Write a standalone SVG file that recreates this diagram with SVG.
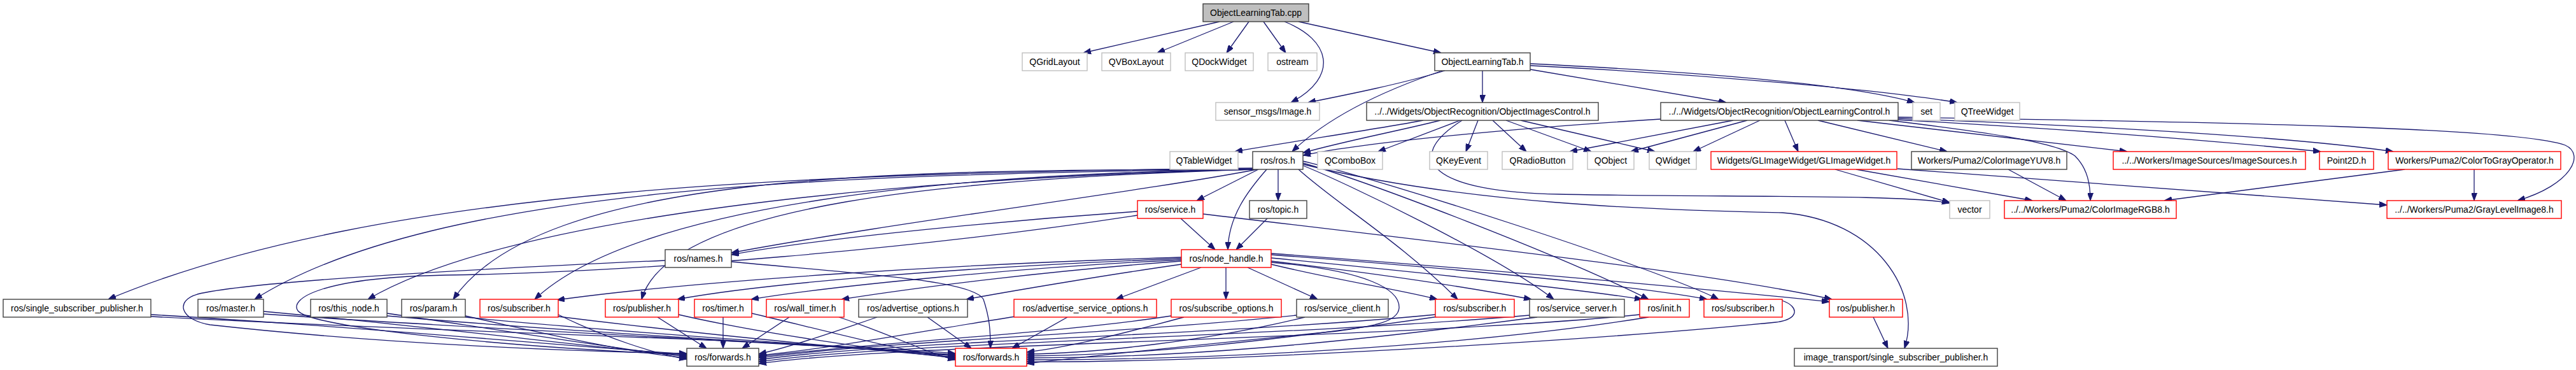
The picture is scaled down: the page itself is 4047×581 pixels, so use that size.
<svg xmlns="http://www.w3.org/2000/svg" width="4047" height="581" viewBox="0 0 4047 581">
<style>
.nb{fill:#fff;stroke:#404040;stroke-width:1.4}
.ng{fill:#fff;stroke:#bfbfbf;stroke-width:1.4}
.nr{fill:#fff;stroke:#ff0000;stroke-width:1.4}
.nc{fill:#bfbfbf;stroke:#404040;stroke-width:1.4}
text{font-family:"Liberation Sans",Arial,sans-serif;font-size:14px;text-anchor:middle;fill:#000}
.e{fill:none;stroke:#191970;stroke-width:1.3;marker-end:url(#ah)}
</style>
<defs>
<marker id="ah" viewBox="0 0 12 9" refX="12" refY="4.5" markerWidth="12" markerHeight="9" markerUnits="userSpaceOnUse" orient="auto"><path d="M0,0 L12,4.5 L0,9 z" fill="#191970" stroke="#191970" stroke-width="1"/></marker>
</defs>
<rect x="0" y="0" width="4047" height="581" fill="#fff"/>
<g id="edges">
<path class="e" d="M1916,34 L1702,83"/>
<path class="e" d="M1938,34 L1818,83"/>
<path class="e" d="M1962,34 L1927,83"/>
<path class="e" d="M1985,34 L2020,83"/>
<path class="e" d="M2018,34 C2090,62 2105,120 2028,161"/>
<path class="e" d="M2040,34 L2264,83"/>
<path class="e" d="M2270,111 C2200,132 2120,148 2055,161"/>
<path class="e" d="M2266,111 C2180,140 2090,180 2030,238"/>
<path class="e" d="M2329,111 L2329,161"/>
<path class="e" d="M2404,109 L2712,161"/>
<path class="e" d="M2404,100 C2650,112 2900,130 3008,161"/>
<path class="e" d="M2404,103 C2650,115 2950,140 3075,161"/>
<path class="e" d="M2236,189 C2150,205 2030,222 1940,238"/>
<path class="e" d="M2263,189 C2200,205 2110,222 2047,240"/>
<path class="e" d="M2294,189 L2165,238"/>
<path class="e" d="M2322,189 L2303,238"/>
<path class="e" d="M2345,189 L2398,238"/>
<path class="e" d="M2366,189 L2500,238"/>
<path class="e" d="M2389,189 L2600,238"/>
<path class="e" d="M2297,189 C2200,250 2250,302 2450,305 C2700,310 3000,305 3063,319"/>
<path class="e" d="M2609,187 C2400,200 2150,222 2047,244"/>
<path class="e" d="M2723,189 L2466,238"/>
<path class="e" d="M2745,189 L2562,238"/>
<path class="e" d="M2765,189 L2660,238"/>
<path class="e" d="M2804,189 L2825,238"/>
<path class="e" d="M2856,189 L3059,238"/>
<path class="e" d="M2918,189 L3342,238"/>
<path class="e" d="M2968,189 C3100,205 3230,222 3260,245 C3280,265 3284,290 3284,315"/>
<path class="e" d="M2980,188 C3200,200 3450,218 3646,238"/>
<path class="e" d="M2982,186 C3300,198 3600,215 3760,238"/>
<path class="e" d="M2982,184 C3500,192 3950,200 4030,228 C4062,242 4040,290 3955,315"/>
<path class="e" d="M2883,266 L3063,318"/>
<path class="e" d="M2916,266 L3193,315"/>
<path class="e" d="M2981,265 C3300,288 3550,305 3750,322"/>
<path class="e" d="M3155,266 L3246,315"/>
<path class="e" d="M3778,266 L3400,315"/>
<path class="e" d="M3887,266 L3887,315"/>
<path class="e" d="M1977,266 L1880,315"/>
<path class="e" d="M2008,266 L2008,315"/>
<path class="e" d="M1990,266 C1960,300 1930,340 1929,392"/>
<path class="e" d="M1975,266 C1800,300 1400,350 1149,397"/>
<path class="e" d="M1968,264 C1300,272 600,290 170,470"/>
<path class="e" d="M1968,265 C1400,275 700,280 400,470"/>
<path class="e" d="M1968,266 C1400,280 800,340 578,470"/>
<path class="e" d="M1969,266 C1400,266 850,270 712,470"/>
<path class="e" d="M1970,266 C1500,272 1000,320 840,470"/>
<path class="e" d="M1972,266 C1500,280 1050,320 1008,470"/>
<path class="e" d="M2040,266 C2100,320 2200,380 2290,470"/>
<path class="e" d="M2047,260 C2110,285 2350,400 2441,470"/>
<path class="e" d="M2047,256 C2150,285 2450,400 2590,470"/>
<path class="e" d="M2047,253 C2180,285 2600,420 2700,470"/>
<path class="e" d="M2047,258 C2300,320 2600,330 2800,334 C2950,345 3020,460 2992,547"/>
<path class="e" d="M1855,343 L1909,392"/>
<path class="e" d="M1787,332 C1600,345 1300,372 1149,400"/>
<path class="e" d="M1787,338 C1450,390 1000,428 700,432 C500,436 455,470 468,488 C490,515 800,545 1079,557"/>
<path class="e" d="M1890,336 C2300,385 2700,430 2878,470"/>
<path class="e" d="M1991,343 L1942,392"/>
<path class="e" d="M1045,409 C800,420 400,440 310,462 C275,472 282,502 330,510 C600,540 900,552 1079,555"/>
<path class="e" d="M1149,411 C1350,430 1530,440 1545,470 C1555,500 1556,520 1556,547"/>
<path class="e" d="M1856,404 C1500,415 1100,440 875,471"/>
<path class="e" d="M1856,406 C1500,420 1200,445 1064,470"/>
<path class="e" d="M1856,408 C1600,420 1300,450 1180,470"/>
<path class="e" d="M1856,410 C1650,425 1450,450 1322,470"/>
<path class="e" d="M1856,415 C1750,430 1600,455 1518,470"/>
<path class="e" d="M1887,420 L1753,470"/>
<path class="e" d="M1926,420 L1926,470"/>
<path class="e" d="M1960,420 L2070,470"/>
<path class="e" d="M1997,415 C2100,440 2200,455 2258,470"/>
<path class="e" d="M1997,410 C2150,428 2300,450 2406,470"/>
<path class="e" d="M1997,405 C2200,425 2450,450 2580,470"/>
<path class="e" d="M1997,400 C2200,415 2550,445 2682,470"/>
<path class="e" d="M1997,398 C2300,420 2700,455 2874,474"/>
<path class="e" d="M1997,412 C2150,425 2200,455 2198,484 C2196,505 2160,512 2100,520 C1900,540 1700,560 1613,571"/>
<path class="e" d="M237,494 C600,515 900,545 1079,556"/>
<path class="e" d="M237,497 C700,522 1200,532 1501,555"/>
<path class="e" d="M414,489 C700,515 950,548 1079,558"/>
<path class="e" d="M414,493 C800,520 1250,538 1501,557"/>
<path class="e" d="M608,492 C800,520 980,550 1079,560"/>
<path class="e" d="M608,496 C900,522 1300,542 1501,558"/>
<path class="e" d="M731,496 C880,530 1000,555 1079,562"/>
<path class="e" d="M731,498 C1000,525 1350,545 1501,559"/>
<path class="e" d="M877,494 C950,530 1030,556 1079,564"/>
<path class="e" d="M877,497 C1100,525 1350,548 1501,561"/>
<path class="e" d="M1033,498 L1110,547"/>
<path class="e" d="M1066,494 C1200,525 1400,552 1501,562"/>
<path class="e" d="M1136,498 L1136,547"/>
<path class="e" d="M1181,492 C1300,520 1420,552 1501,563"/>
<path class="e" d="M1240,498 L1166,547"/>
<path class="e" d="M1318,498 C1400,525 1460,556 1501,565"/>
<path class="e" d="M1378,498 C1300,525 1240,545 1192,556"/>
<path class="e" d="M1457,498 L1526,547"/>
<path class="e" d="M1601,496 C1450,520 1300,548 1192,558"/>
<path class="e" d="M1677,498 L1590,547"/>
<path class="e" d="M1840,496 C1650,525 1400,535 1192,560"/>
<path class="e" d="M1860,498 C1760,525 1680,545 1613,553"/>
<path class="e" d="M2037,495 C1750,525 1400,535 1192,562"/>
<path class="e" d="M2050,498 C1900,535 1720,555 1613,556"/>
<path class="e" d="M2255,494 C1900,528 1400,535 1192,565"/>
<path class="e" d="M2260,497 C2000,535 1800,558 1613,559"/>
<path class="e" d="M2403,495 C2000,530 1400,538 1192,568"/>
<path class="e" d="M2415,498 C2100,540 1850,562 1613,562"/>
<path class="e" d="M2576,494 C2200,532 1400,540 1192,571"/>
<path class="e" d="M2590,498 C2300,545 1900,565 1613,565"/>
<path class="e" d="M2800,472 C2828,482 2826,502 2790,506 C2500,535 1900,570 1613,568"/>
<path class="e" d="M2943,498 L2966,547"/>
</g>
<g id="n_cpp"><rect class="nc" x="1890" y="6" width="166" height="28"/><text x="1973" y="25">ObjectLearningTab.cpp</text></g>
<g id="n_qgridlayout"><rect class="ng" x="1606" y="83" width="102" height="28"/><text x="1657" y="102">QGridLayout</text></g>
<g id="n_qvboxlayout"><rect class="ng" x="1731" y="83" width="108" height="28"/><text x="1785" y="102">QVBoxLayout</text></g>
<g id="n_qdockwidget"><rect class="ng" x="1862" y="83" width="107" height="28"/><text x="1915.5" y="102">QDockWidget</text></g>
<g id="n_ostream"><rect class="ng" x="1992" y="83" width="77" height="28"/><text x="2030.5" y="102">ostream</text></g>
<g id="n_olt"><rect class="nb" x="2254" y="83" width="150" height="28"/><text x="2329" y="102">ObjectLearningTab.h</text></g>
<g id="n_sensor"><rect class="ng" x="1910" y="161" width="163" height="28"/><text x="1991.5" y="180">sensor_msgs/Image.h</text></g>
<g id="n_oic"><rect class="nb" x="2147" y="161" width="364" height="28"/><text x="2329" y="180">../../Widgets/ObjectRecognition/ObjectImagesControl.h</text></g>
<g id="n_olc"><rect class="nb" x="2609" y="161" width="373" height="28"/><text x="2795.5" y="180">../../Widgets/ObjectRecognition/ObjectLearningControl.h</text></g>
<g id="n_set"><rect class="ng" x="3005" y="161" width="43" height="28"/><text x="3026.5" y="180">set</text></g>
<g id="n_qtreewidget"><rect class="ng" x="3071" y="161" width="102" height="28"/><text x="3122" y="180">QTreeWidget</text></g>
<g id="n_qtablewidget"><rect class="ng" x="1838" y="238" width="107" height="28"/><text x="1891.5" y="257">QTableWidget</text></g>
<g id="n_ros"><rect class="nb" x="1968" y="238" width="79" height="28"/><text x="2007.5" y="257">ros/ros.h</text></g>
<g id="n_qcombobox"><rect class="ng" x="2070" y="238" width="102" height="28"/><text x="2121" y="257">QComboBox</text></g>
<g id="n_qkeyevent"><rect class="ng" x="2246" y="238" width="91" height="28"/><text x="2291.5" y="257">QKeyEvent</text></g>
<g id="n_qradiobutton"><rect class="ng" x="2360" y="238" width="111" height="28"/><text x="2415.5" y="257">QRadioButton</text></g>
<g id="n_qobject"><rect class="ng" x="2494" y="238" width="73" height="28"/><text x="2530.5" y="257">QObject</text></g>
<g id="n_qwidget"><rect class="ng" x="2591" y="238" width="74" height="28"/><text x="2628" y="257">QWidget</text></g>
<g id="n_glimagewidget"><rect class="nr" x="2688" y="238" width="292" height="28"/><text x="2834" y="257">Widgets/GLImageWidget/GLImageWidget.h</text></g>
<g id="n_yuv8"><rect class="nb" x="3003" y="238" width="244" height="28"/><text x="3125" y="257">Workers/Puma2/ColorImageYUV8.h</text></g>
<g id="n_imagesources"><rect class="nr" x="3320" y="238" width="302" height="28"/><text x="3471" y="257">../../Workers/ImageSources/ImageSources.h</text></g>
<g id="n_point2d"><rect class="nr" x="3644" y="238" width="85" height="28"/><text x="3686.5" y="257">Point2D.h</text></g>
<g id="n_colortogray"><rect class="nr" x="3752" y="238" width="271" height="28"/><text x="3887.5" y="257">Workers/Puma2/ColorToGrayOperator.h</text></g>
<g id="n_service"><rect class="nr" x="1787" y="315" width="103" height="28"/><text x="1838.5" y="334">ros/service.h</text></g>
<g id="n_topic"><rect class="nb" x="1963" y="315" width="90" height="28"/><text x="2008" y="334">ros/topic.h</text></g>
<g id="n_vector"><rect class="ng" x="3063" y="315" width="63" height="28"/><text x="3094.5" y="334">vector</text></g>
<g id="n_rgb8"><rect class="nr" x="3149" y="315" width="270" height="28"/><text x="3284" y="334">../../Workers/Puma2/ColorImageRGB8.h</text></g>
<g id="n_gray8"><rect class="nr" x="3750" y="315" width="274" height="28"/><text x="3887" y="334">../../Workers/Puma2/GrayLevelImage8.h</text></g>
<g id="n_names"><rect class="nb" x="1045" y="392" width="104" height="28"/><text x="1097" y="411">ros/names.h</text></g>
<g id="n_node_handle"><rect class="nr" x="1856" y="392" width="141" height="28"/><text x="1926.5" y="411">ros/node_handle.h</text></g>
<g id="n_single_sub"><rect class="nb" x="5" y="470" width="232" height="28"/><text x="121" y="489">ros/single_subscriber_publisher.h</text></g>
<g id="n_master"><rect class="nb" x="311" y="470" width="103" height="28"/><text x="362.5" y="489">ros/master.h</text></g>
<g id="n_this_node"><rect class="nb" x="488" y="470" width="120" height="28"/><text x="548" y="489">ros/this_node.h</text></g>
<g id="n_param"><rect class="nb" x="631" y="470" width="100" height="28"/><text x="681" y="489">ros/param.h</text></g>
<g id="n_subscriber_a"><rect class="nr" x="754" y="470" width="123" height="28"/><text x="815.5" y="489">ros/subscriber.h</text></g>
<g id="n_publisher_a"><rect class="nr" x="951" y="470" width="115" height="28"/><text x="1008.5" y="489">ros/publisher.h</text></g>
<g id="n_timer"><rect class="nr" x="1091" y="470" width="90" height="28"/><text x="1136" y="489">ros/timer.h</text></g>
<g id="n_wall_timer"><rect class="nr" x="1204" y="470" width="122" height="28"/><text x="1265" y="489">ros/wall_timer.h</text></g>
<g id="n_adv_opt"><rect class="nb" x="1349" y="470" width="171" height="28"/><text x="1434.5" y="489">ros/advertise_options.h</text></g>
<g id="n_adv_srv_opt"><rect class="nr" x="1593" y="470" width="224" height="28"/><text x="1705" y="489">ros/advertise_service_options.h</text></g>
<g id="n_sub_opt"><rect class="nr" x="1840" y="470" width="173" height="28"/><text x="1926.5" y="489">ros/subscribe_options.h</text></g>
<g id="n_srv_client"><rect class="nb" x="2037" y="470" width="144" height="28"/><text x="2109" y="489">ros/service_client.h</text></g>
<g id="n_subscriber_b"><rect class="nr" x="2255" y="470" width="124" height="28"/><text x="2317" y="489">ros/subscriber.h</text></g>
<g id="n_srv_server"><rect class="nb" x="2403" y="470" width="149" height="28"/><text x="2477.5" y="489">ros/service_server.h</text></g>
<g id="n_init"><rect class="nr" x="2576" y="470" width="78" height="28"/><text x="2615" y="489">ros/init.h</text></g>
<g id="n_subscriber_c"><rect class="nr" x="2677" y="470" width="123" height="28"/><text x="2738.5" y="489">ros/subscriber.h</text></g>
<g id="n_publisher_b"><rect class="nr" x="2874" y="470" width="115" height="28"/><text x="2931.5" y="489">ros/publisher.h</text></g>
<g id="n_forwards_a"><rect class="nb" x="1079" y="547" width="113" height="28"/><text x="1135.5" y="566">ros/forwards.h</text></g>
<g id="n_forwards_b"><rect class="nr" x="1501" y="547" width="112" height="28"/><text x="1557" y="566">ros/forwards.h</text></g>
<g id="n_image_transport"><rect class="nb" x="2819" y="547" width="319" height="28"/><text x="2978.5" y="566">image_transport/single_subscriber_publisher.h</text></g>
</svg>
